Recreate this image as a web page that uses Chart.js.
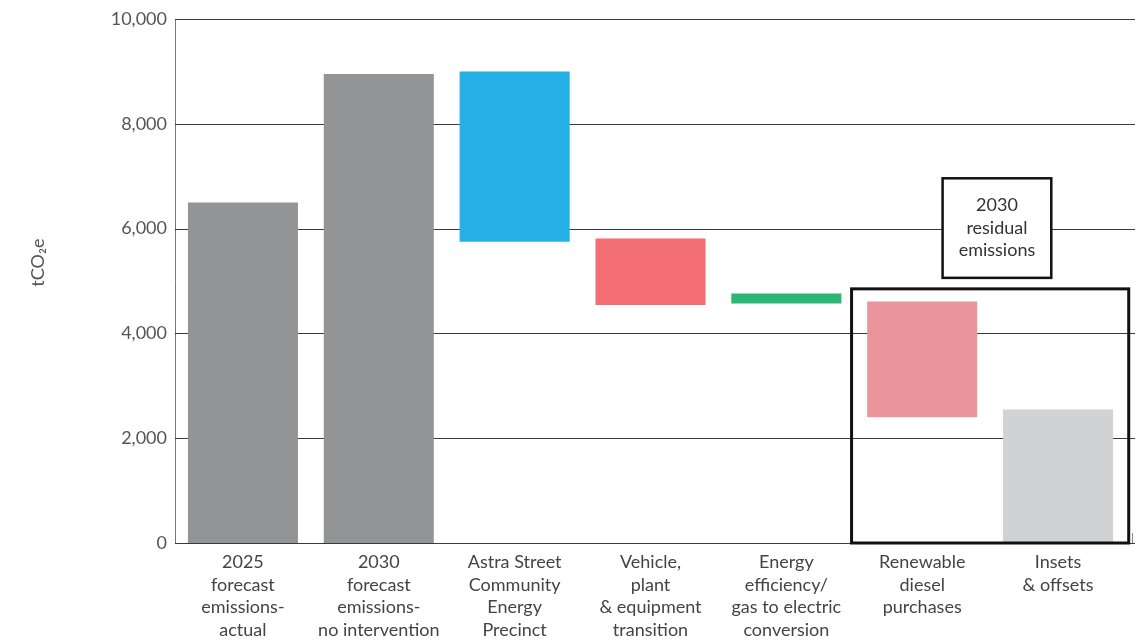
<!DOCTYPE html>
<html>
<head>
<meta charset="utf-8">
<script src="https://cdn.jsdelivr.net/npm/chart.js@4"></script>
<style>
  html, body { margin: 0; padding: 0; background: #fff; }
  #wrap { width: 1140px; height: 643px; }
</style>
</head>
<body>
<div id="wrap"><canvas id="waterfall"></canvas></div>
<script>
// categorie (etichette su piu righe)
const categorie = [
  ["2025", "forecast", "emissions-", "actual"],
  ["2030", "forecast", "emissions-", "no intervention"],
  ["Astra Street", "Community", "Energy", "Precinct"],
  ["Vehicle,", "plant", "& equipment", "transition"],
  ["Energy", "efficiency/", "gas to electric", "conversion"],
  ["Renewable", "diesel", "purchases"],
  ["Insets", "& offsets"]
];

// valori: base e cima di ogni barra (tCO2e)
const basi = [0, 0, 5750, 4540, 4570, 2400, 0];
const cime = [6500, 8950, 9000, 5810, 4760, 4610, 2550];

const coloriBarre = ["#939496", "#939496", "#25b1e6", "#f26e74", "#2bb673", "#ea949c", "#d1d2d4"];

const tickY = [0, 2000, 4000, 6000, 8000, 10000];
const titoloY = "tCO₂e";
const testoRiquadro = ["2030", "residual", "emissions"];

const FONT = "Lato, 'Noto Sans', sans-serif";

// griglia orizzontale che sborda un po' a destra dell'area
const grigliaPlugin = {
  id: "griglia",
  beforeDatasetsDraw(chart) {
    const { ctx, chartArea, scales } = chart;
    ctx.save();
    ctx.strokeStyle = "#3a3a3a";
    ctx.lineWidth = 1;
    tickY.forEach(v => {
      const y = Math.round(scales.y.getPixelForValue(v)) + 0.5;
      ctx.beginPath();
      ctx.moveTo(chartArea.left, y);
      ctx.lineTo(chartArea.right + 9, y);
      ctx.stroke();
    });
    // piccolo segno a fine asse
    const y0 = scales.y.getPixelForValue(0);
    ctx.strokeStyle = "#888";
    ctx.beginPath();
    ctx.moveTo(chartArea.right + 6.5, y0 - 10);
    ctx.lineTo(chartArea.right + 6.5, y0);
    ctx.stroke();

    // titolo asse y
    ctx.fillStyle = "#555";
    ctx.font = "18px " + FONT;
    ctx.textAlign = "center";
    ctx.textBaseline = "middle";
    ctx.translate(38, scales.y.getPixelForValue(5350));
    ctx.rotate(-Math.PI / 2);
    ctx.fillText(titoloY, 0, 0);
    ctx.restore();
  }
};

// riquadri "2030 residual emissions"
const riquadriPlugin = {
  id: "riquadri",
  afterDatasetsDraw(chart, args, opts) {
    const { ctx, scales } = chart;
    const x = scales.x, y = scales.y;
    const passo = x.getPixelForValue(1) - x.getPixelForValue(0);
    const px = v => x.getPixelForValue(Math.floor(v)) + (v - Math.floor(v)) * passo;

    ctx.save();
    // riquadro esterno
    const l = px(opts.box.x0), r = px(opts.box.x1);
    const t = y.getPixelForValue(opts.box.y1), b = y.getPixelForValue(opts.box.y0);
    ctx.strokeStyle = "#111";
    ctx.lineWidth = 3;
    ctx.strokeRect(l, t, r - l, b - t);

    // etichetta
    const el = px(opts.label.x0), er = px(opts.label.x1);
    const et = y.getPixelForValue(opts.label.y1), eb = y.getPixelForValue(opts.label.y0);
    ctx.fillStyle = "#fff";
    ctx.fillRect(el, et, er - el, eb - et);
    ctx.lineWidth = 2.5;
    ctx.strokeRect(el, et, er - el, eb - et);

    ctx.fillStyle = "#333";
    ctx.font = "18px " + FONT;
    ctx.textAlign = "center";
    ctx.textBaseline = "middle";
    const cx = (el + er) / 2, cy = (et + eb) / 2;
    testoRiquadro.forEach((riga, i) => {
      ctx.fillText(riga, cx, cy + (i - (testoRiquadro.length - 1) / 2) * 22.5);
    });
    ctx.restore();
  }
};

new Chart(document.getElementById("waterfall"), {
  type: "bar",
  data: {
    labels: categorie,
    datasets: [{
      data: basi.map((b, i) => [b, cime[i]]),
      backgroundColor: coloriBarre,
      borderWidth: 0,
      borderSkipped: false,
      categoryPercentage: 1,
      barPercentage: 0.81
    }]
  },
  options: {
    responsive: true,
    maintainAspectRatio: false,
    animation: false,
    layout: { padding: { top: 19, right: 14, left: 0, bottom: 0 } },
    plugins: {
      legend: { display: false },
      tooltip: { enabled: false },
      riquadri: {
        box: { x0: 4.48, x1: 6.52, y0: 0, y1: 4850 },
        label: { x0: 5.15, x1: 5.95, y0: 5060, y1: 6960 }
      }
    },
    scales: {
      x: {
        grid: { display: false, drawTicks: false },
        border: { display: false },
        ticks: {
          color: "#444",
          font: { family: FONT, size: 18, lineHeight: 1.25 },
          padding: 8,
          maxRotation: 0,
          autoSkip: false
        },
        afterFit: s => { s.height = 100; }
      },
      y: {
        min: 0,
        max: 10000,
        afterBuildTicks: s => { s.ticks = tickY.map(v => ({ value: v })); },
        grid: { display: false, drawTicks: false },
        border: { display: true, color: "#777", width: 1 },
        ticks: {
          color: "#555",
          font: { family: FONT, size: 18 },
          padding: 8,
          callback: v => v.toLocaleString("en-US")
        },
        afterFit: s => { s.width = 175; }
      }
    }
  },
  plugins: [grigliaPlugin, riquadriPlugin]
});
</script>
</body>
</html>
